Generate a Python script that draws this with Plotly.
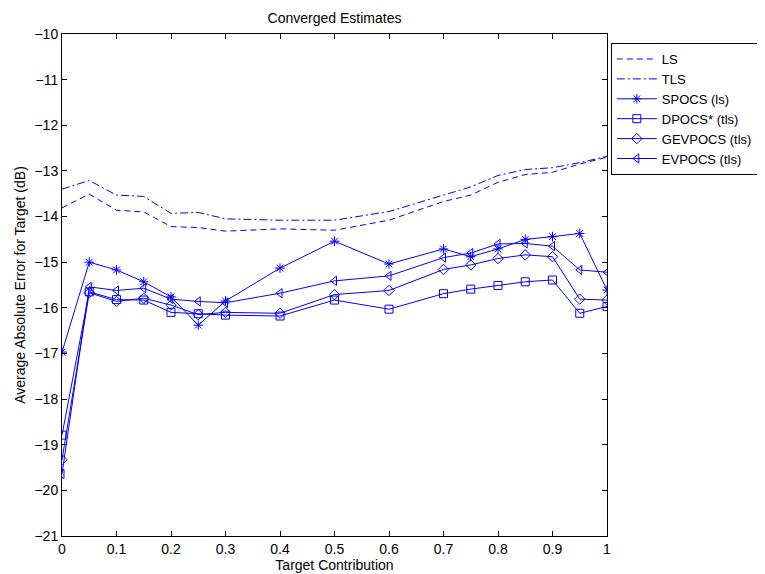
import plotly.graph_objects as go

x = [0, 0.05, 0.1, 0.15, 0.2, 0.25, 0.3, 0.4, 0.5, 0.6, 0.7, 0.75, 0.8, 0.85, 0.9, 0.95, 1.0]
ls = [-13.81, -13.51, -13.86, -13.9, -14.22, -14.24, -14.32, -14.27, -14.3, -14.08, -13.67, -13.53, -13.25, -13.08, -13.03, -12.85, -12.7]
tls = [-13.4, -13.21, -13.53, -13.56, -13.93, -13.91, -14.05, -14.08, -14.08, -13.89, -13.53, -13.35, -13.1, -12.97, -12.93, -12.82, -12.68]
spocs = [-16.97, -15.0, -15.17, -15.43, -15.76, -16.38, -15.85, -15.13, -14.54, -15.04, -14.71, -14.88, -14.71, -14.5, -14.44, -14.37, -15.61]
dpocs = [-18.79, -15.65, -15.82, -15.83, -16.1, -16.13, -16.16, -16.18, -15.83, -16.03, -15.69, -15.59, -15.51, -15.43, -15.39, -16.12, -15.97]
gevpocs = [-19.33, -15.67, -15.86, -15.79, -15.94, -16.15, -16.1, -16.12, -15.71, -15.62, -15.16, -15.06, -14.92, -14.84, -14.88, -15.81, -15.83]
evpocs = [-19.64, -15.54, -15.62, -15.57, -15.81, -15.86, -15.89, -15.68, -15.41, -15.3, -14.9, -14.8, -14.6, -14.59, -14.65, -15.17, -15.22]

xticks = [0, 0.1, 0.2, 0.3, 0.4, 0.5, 0.6, 0.7, 0.8, 0.9, 1]
yticks = list(range(-21, -9))

blue = "rgb(0,0,255)"
fig = go.Figure()
fig.add_trace(go.Scatter(x=x, y=ls, mode="lines", name="LS",
                         line=dict(color=blue, width=1, dash="6px,4px")))
fig.add_trace(go.Scatter(x=x, y=tls, mode="lines", name="TLS",
                         line=dict(color=blue, width=1, dash="8px,3px,2px,3px")))
series = [("SPOCS (ls)", spocs, "asterisk-open"),
          ("DPOCS* (tls)", dpocs, "square-open"),
          ("GEVPOCS (tls)", gevpocs, "diamond-open"),
          ("EVPOCS (tls)", evpocs, "triangle-left-open")]
for name, ys, sym in series:
    fig.add_trace(go.Scatter(x=x, y=ys, mode="lines+markers", name=name,
                             line=dict(color=blue, width=1),
                             marker=dict(symbol=sym, size=8, color=blue,
                                         line=dict(color=blue, width=1))))

axis_common = dict(showgrid=False, zeroline=False, showline=True, linecolor="black",
                   linewidth=1, mirror="ticks", ticks="inside", ticklen=5,
                   tickcolor="black", tickfont=dict(size=14, color="black"),
                   automargin=False)
fig.update_xaxes(range=[0, 1], tickvals=xticks, ticktext=[f"{t:g}" for t in xticks],
                 title=dict(text="Target Contribution", font=dict(size=14, color="black"), standoff=2),
                 **axis_common)
fig.update_yaxes(range=[-21, -10], tickvals=yticks,
                 title=dict(text="Average Absolute Error for Target (dB)", font=dict(size=14, color="black"), standoff=5),
                 **axis_common)
# page body adds an 8px offset; figure sized so the plot lands at 62..607 x 34..536
fig.update_layout(
    width=757, height=566,
    margin=dict(l=54, r=158, t=26, b=38, autoexpand=False),
    paper_bgcolor="white", plot_bgcolor="white",
    font=dict(family="Liberation Sans, Arial, sans-serif", size=14, color="black"),
    title=dict(text="Converged Estimates", x=(54 + 599) / 2 / 757, xanchor="center",
               y=1 - 10 / 566, yanchor="middle", font=dict(size=14)),
    legend=dict(x=1.007, y=0.982, xanchor="left", yanchor="top",
                bordercolor="black", borderwidth=1, bgcolor="white",
                font=dict(size=13), tracegroupgap=0, itemwidth=40),
    showlegend=True,
)
fig.write_html("out.html")
